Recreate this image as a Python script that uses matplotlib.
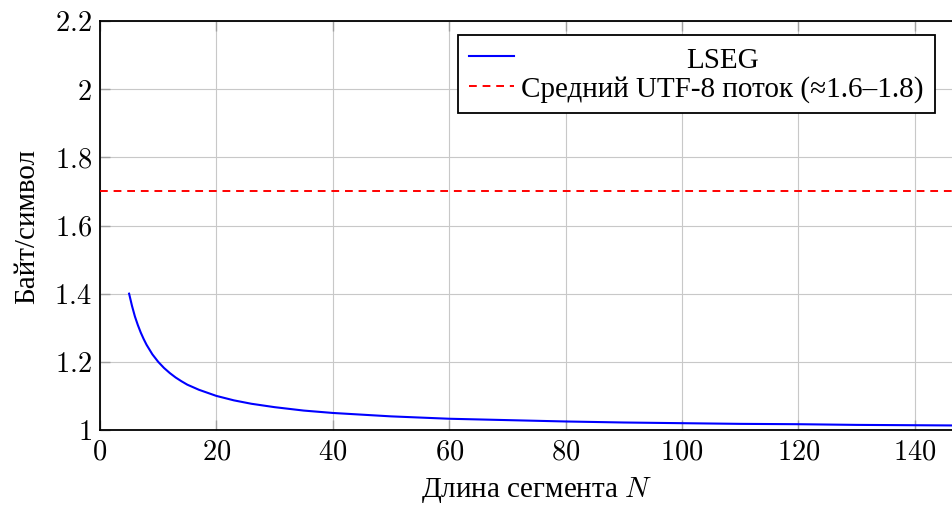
import numpy as np
import matplotlib
matplotlib.use('Agg')
import matplotlib.pyplot as plt
from matplotlib.ticker import FuncFormatter, MultipleLocator

# segment length N and bytes per symbol for LSEG
seg_len = [5, 5.5, 6, 6.5, 7, 7.5, 8, 9, 10, 11, 12, 13, 14, 15, 17, 20, 23,
           26, 30, 35, 40, 50, 60, 70, 80, 90, 100, 110, 120, 130, 140, 150]
lseg_bps = [1.4, 1.364, 1.333, 1.308, 1.286, 1.267, 1.25, 1.222, 1.2, 1.182,
            1.167, 1.154, 1.143, 1.133, 1.118, 1.1, 1.087, 1.077, 1.067,
            1.057, 1.05, 1.04, 1.033, 1.029, 1.025, 1.022, 1.02, 1.018,
            1.017, 1.015, 1.014, 1.013]
utf8_avg = 1.7

label_lseg = 'LSEG'
label_utf8 = 'Средний UTF-8 поток (≈1.6–1.8)'
xlabel = 'Длина сегмента $N$'
ylabel = 'Байт/символ'

plt.rcParams['font.family'] = ['Liberation Serif', 'DejaVu Serif']
plt.rcParams['mathtext.fontset'] = 'cm'
fs = 21
fs_tick = 20.5

W, H = 952, 506
fig = plt.figure(figsize=(W / 100, H / 100), dpi=100)
# axes run past the right edge of the picture, as in the reference
ax = fig.add_axes([100 / W, 75 / H, 873 / W, 409 / H])

ax.plot(seg_len, lseg_bps, color='blue', lw=1.5, label=label_lseg, zorder=3)
ax.axhline(utf8_avg, color='red', lw=1.4, linestyle=(0, (4, 3)),
           label=label_utf8, zorder=3)

ax.set_xlim(0, 150)
ax.set_ylim(1, 2.2)
ax.xaxis.set_major_locator(MultipleLocator(20))
ax.yaxis.set_major_locator(MultipleLocator(0.2))
fmt = FuncFormatter(lambda v, p: '$%g$' % round(v, 2))
ax.xaxis.set_major_formatter(fmt)
ax.yaxis.set_major_formatter(fmt)
ax.tick_params(direction='in', length=7, width=1, color='#a0a0a0',
               labelsize=fs_tick, top=True, right=True)
ax.tick_params(axis='x', pad=7)
ax.tick_params(axis='y', pad=6)
ax.grid(True, color='#c8c8c8', lw=0.8)
ax.set_axisbelow(True)
for s in ax.spines.values():
    s.set_linewidth(1.3)

ax.set_xlabel(xlabel, fontsize=fs, labelpad=7)
ax.set_ylabel(ylabel, fontsize=fs, labelpad=10)

leg = ax.legend(loc='upper right', bbox_to_anchor=(935 / W, 1 - 36 / H),
                bbox_transform=fig.transFigure, borderaxespad=0,
                fontsize=fs, fancybox=False, frameon=True, framealpha=1,
                edgecolor='black', handlelength=1.55, handletextpad=0.25,
                borderpad=0.38, labelspacing=0.1)
leg.get_frame().set_linewidth(1.3)

# center the short label within the legend column, like pgfplots does
fig.canvas.draw()
r = fig.canvas.get_renderer()
texts = leg.get_texts()
wmax = max(t.get_window_extent(r).width for t in texts)
for t in texts:
    t.set_x((wmax - t.get_window_extent(r).width) / 2)

fig.savefig('out.png', dpi=100)
